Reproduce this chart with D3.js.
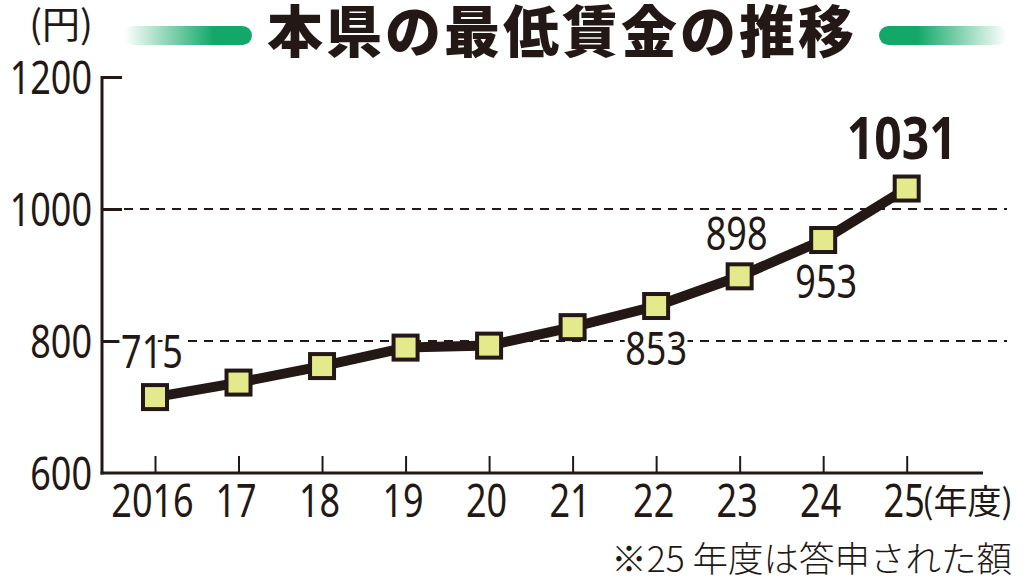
<!DOCTYPE html>
<html>
<head>
<meta charset="utf-8">
<script src="https://cdn.jsdelivr.net/npm/d3@7"></script>
<style>
  html, body { margin: 0; padding: 0; background: #fff; }
  svg { display: block; }
  .num { font-family: "Noto Sans", "Open Sans", sans-serif; fill: #231815; }
  .jp { font-family: "Noto Sans CJK JP", sans-serif; fill: #231815; }
</style>
</head>
<body>
<svg id="chart"></svg>
<script>
// data
const years = [2016, 2017, 2018, 2019, 2020, 2021, 2022, 2023, 2024, 2025]
const wages = [715, 737, 762, 790, 793, 821, 853, 898, 953, 1031]
const yearLabels = ['2016', '17', '18', '19', '20', '21', '22', '23', '24', '25']
const yTicks = [600, 800, 1000, 1200]
const gridValues = [800, 1000]
const labelledYears = [2016, 2022, 2023, 2024, 2025]

const title = '本県の最低賃金の推移'
const unitY = '(円)'
const unitX = '(年度)'
const note = '※25 年度は答申された額'

// label placement (above / below the point)
const labelPos = {
  2016: { dx: -3, dy: -29 },
  2022: { dx: 0, dy: 59 },
  2023: { dx: -3, dy: -26 },
  2024: { dx: 3, dy: 58 },
  2025: { dx: -5, dy: -30, big: true }
}

const W = 1024, H = 587
const ink = '#231815'
const green = '#13a86a'
const squeeze = 0.8   // condensed look for digits

const svg = d3.select('#chart').attr('width', W).attr('height', H)

const x = d3.scaleLinear().domain([2016, 2025]).range([155, 906.7])
const y = d3.scaleLinear().domain([600, 1200]).range([473, 77])

const defs = svg.append('defs')
const gl = defs.append('linearGradient').attr('id', 'gLeft')
gl.append('stop').attr('offset', '0%').attr('stop-color', green).attr('stop-opacity', 0)
gl.append('stop').attr('offset', '70%').attr('stop-color', green).attr('stop-opacity', 1)
gl.append('stop').attr('offset', '100%').attr('stop-color', green).attr('stop-opacity', 1)
const gr = defs.append('linearGradient').attr('id', 'gRight')
gr.append('stop').attr('offset', '0%').attr('stop-color', green).attr('stop-opacity', 1)
gr.append('stop').attr('offset', '30%').attr('stop-color', green).attr('stop-opacity', 1)
gr.append('stop').attr('offset', '100%').attr('stop-color', green).attr('stop-opacity', 0)

// title bars
svg.append('rect').attr('x', 124).attr('y', 26).attr('width', 128).attr('height', 19)
  .attr('rx', 9.5).attr('fill', 'url(#gLeft)')
svg.append('rect').attr('x', 879).attr('y', 26).attr('width', 128).attr('height', 19)
  .attr('rx', 9.5).attr('fill', 'url(#gRight)')

svg.append('text').attr('class', 'jp')
  .attr('x', 267).attr('y', 52)
  .attr('font-size', 56).attr('font-weight', 900)
  .attr('letter-spacing', 3)
  .text(title)

svg.append('text').attr('class', 'jp')
  .attr('x', 61).attr('y', 38).attr('text-anchor', 'middle')
  .attr('font-size', 38)
  .text(unitY)

// grid lines
svg.append('g').selectAll('line')
  .data(gridValues)
  .join('line')
  .attr('x1', 124).attr('x2', 1007)
  .attr('y1', d => y(d)).attr('y2', d => y(d))
  .attr('stroke', ink).attr('stroke-width', 2)
  .attr('stroke-dasharray', '9,7')

// y axis
const yAxis = svg.append('g')
  .attr('transform', 'translate(102,0)')
  .call(d3.axisLeft(y).tickValues(yTicks).tickFormat(d3.format('d'))
    .tickSize(-20).tickPadding(10).tickSizeOuter(0))
yAxis.select('.domain').remove()
yAxis.selectAll('.tick line').attr('stroke', ink).attr('stroke-width', 3)
  .filter(d => d === 600).remove()
yAxis.selectAll('.tick text').attr('class', 'num').attr('font-size', 45)
  .attr('x', -10 / squeeze).attr('dy', '0.36em')
  .attr('transform', `scale(${squeeze},1)`)
svg.append('line').attr('x1', 102).attr('x2', 102).attr('y1', 76).attr('y2', 474.5)
  .attr('stroke', ink).attr('stroke-width', 3)

// x axis
const xAxis = svg.append('g')
  .attr('transform', 'translate(0,473)')
  .call(d3.axisBottom(x).tickValues(years).tickSize(-17).tickPadding(10).tickSizeOuter(0)
    .tickFormat((d, i) => yearLabels[i]))
xAxis.select('.domain').remove()
xAxis.selectAll('.tick line').attr('stroke', ink).attr('stroke-width', 2)
xAxis.selectAll('.tick text').attr('class', 'num').attr('font-size', 45)
  .attr('x', -3 / squeeze).attr('y', 44).attr('dy', 0)
  .attr('transform', `scale(${squeeze},1)`)
svg.append('line').attr('x1', 100.5).attr('x2', 983).attr('y1', 473).attr('y2', 473)
  .attr('stroke', ink).attr('stroke-width', 3)

svg.append('text').attr('class', 'jp')
  .attr('x', 922).attr('y', 514)
  .attr('font-size', 34)
  .text(unitX)

// line + markers
const pts = years.map((d, i) => [d, wages[i]])
svg.append('path')
  .datum(pts)
  .attr('fill', 'none')
  .attr('stroke', ink).attr('stroke-width', 10)
  .attr('stroke-linejoin', 'round')
  .attr('d', d3.line().x(d => x(d[0])).y(d => y(d[1])))

svg.append('g').selectAll('rect')
  .data(pts)
  .join('rect')
  .attr('x', d => x(d[0]) - 12).attr('y', d => y(d[1]) - 12)
  .attr('width', 24).attr('height', 24)
  .attr('fill', '#e4ea8c').attr('stroke', ink).attr('stroke-width', 4)

// value labels
svg.append('g').selectAll('text')
  .data(pts.filter(d => labelledYears.includes(d[0])))
  .join('text')
  .attr('class', 'num')
  .attr('transform', d => `translate(${x(d[0]) + labelPos[d[0]].dx},${y(d[1]) + labelPos[d[0]].dy}) scale(${squeeze},1)`)
  .attr('text-anchor', 'middle')
  .attr('font-size', d => labelPos[d[0]].big ? 60 : 45)
  .attr('font-weight', d => labelPos[d[0]].big ? 700 : 400)
  .attr('stroke', '#fff').attr('stroke-width', 8).attr('paint-order', 'stroke')
  .text(d => d[1])

svg.append('text').attr('class', 'jp')
  .attr('x', 1012).attr('y', 572).attr('text-anchor', 'end')
  .attr('font-size', 35.5).attr('font-weight', 300)
  .text(note)
</script>
</body>
</html>
